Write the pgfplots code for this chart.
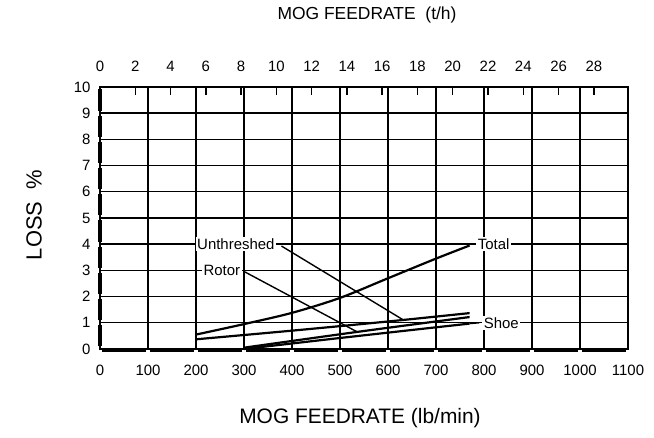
\documentclass[border=0pt]{standalone}
\usepackage{fontspec}
\setmainfont{Liberation Sans}
\usepackage{pgfplots}
\pgfplotsset{compat=1.18}
\begin{document}
\begin{tikzpicture}[x=1bp,y=1bp]
\useasboundingbox (-100,-89) rectangle (554,349);
\begin{axis}[
  at={(0,0)}, anchor=south west, scale only axis,
  width=528bp, height=262bp,
  xmin=0, xmax=1100, ymin=0, ymax=10,
  xtick={0,100,...,1100}, ytick={0,1,...,10},
  grid=major, major grid style={black, line width=1.4bp},
  axis line style={black, line width=1.6bp},
  major tick length=0pt,
  tick label style={font=\fontsize{15}{17}\selectfont},
  xticklabel style={yshift=-13bp},
  yticklabel style={xshift=-6bp},
  /pgf/number format/assume math mode=true,
  /pgf/number format/1000 sep={},
  clip=false,
]
% Total
\addplot[black, line width=2.2bp, smooth] coordinates {
 (200,0.55) (300,0.95) (400,1.38) (500,1.95) (600,2.7) (700,3.45) (770,3.95)};
% Unthreshed
\addplot[black, line width=2.2bp, smooth] coordinates {
 (200,0.37) (400,0.70) (600,1.05) (770,1.37)};
% Rotor
\addplot[black, line width=2.2bp, smooth] coordinates {
 (300,0.05) (535,0.65) (770,1.22)};
% Shoe
\addplot[black, line width=2.2bp, smooth] coordinates {
 (300,0.0) (500,0.42) (770,0.97)};
% leaders
\draw[black, line width=1.4bp] (axis cs:378,3.93) -- (axis cs:630,1.13);
\draw[black, line width=1.4bp] (axis cs:302,2.94) -- (axis cs:535,0.66);
\draw[black, line width=1.4bp] (axis cs:770,0.97) -- (axis cs:790,1.0);
% labels
\node[fill=white, inner sep=1.5pt, font=\fontsize{15}{17}\selectfont] at (axis cs:283,4.0) {Unthreshed};
\node[fill=white, inner sep=1.5pt, font=\fontsize{15}{17}\selectfont] at (axis cs:254,3.0) {Rotor};
\node[fill=white, inner sep=1.5pt, font=\fontsize{15}{17}\selectfont] at (axis cs:820,4.0) {Total};
\node[fill=white, inner sep=1.5pt, font=\fontsize{15}{17}\selectfont] at (axis cs:836,1.0) {Shoe};
\end{axis}
\begin{axis}[
  at={(0,0)}, anchor=south west, scale only axis,
  width=528bp, height=262bp,
  xmin=0, xmax=29.937, ymin=0, ymax=10,
  axis x line*=top, axis y line=none,
  xtick={0,2,...,28},
  tick align=inside, major tick length=8bp,
  tick style={black, line width=1.4bp},
  axis line style={black, line width=1.6bp},
  tick label style={font=\fontsize{15}{17}\selectfont},
  xticklabel style={yshift=12bp},
  /pgf/number format/assume math mode=true,
]
\end{axis}
% thick broken left and bottom axis bars
\foreach \i in {0,...,10} \draw[line width=4.5bp] ({\i*48+2},-1) -- ({\i*48+46},-1);
\foreach \j in {0,...,9} \draw[line width=4bp] (0,{\j*26.2+2.5}) -- (0,{\j*26.2+23.7});
% axis titles
\node[font=\fontsize{21}{24}\selectfont] at (260,-69) {MOG FEEDRATE (lb/min)};
\node[font=\fontsize{17.5}{20}\selectfont] at (267,334) {MOG FEEDRATE\ \ (t/h)};
\node[font=\fontsize{22}{24}\selectfont, rotate=90] at (-66,134) {LOSS\ \ \%};
\end{tikzpicture}
\end{document}
